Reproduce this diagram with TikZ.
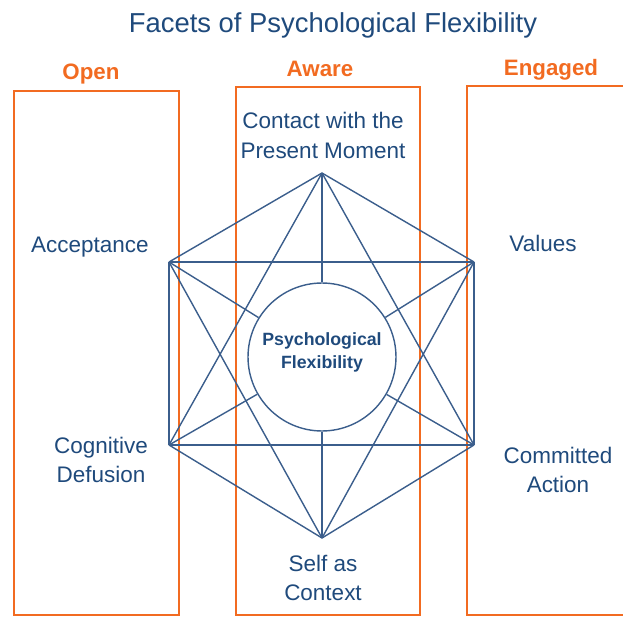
\documentclass[tikz,border=0pt]{standalone}
\usepackage{fontspec}
\setmainfont{Liberation Sans}
\usepackage{xcolor}
\usepackage{tikz}
\usetikzlibrary{shapes.geometric, positioning}

\definecolor{actBlue}{HTML}{1F4A7C}
\definecolor{actLine}{HTML}{3B5E8C}
\definecolor{actOrange}{HTML}{F26B21}

\begin{document}
\begin{tikzpicture}[
    x=0.02cm, y=-0.02cm,
    % ── boxes and lines ──
    facetBox/.style  = {draw=actOrange, line width=1.1pt},
    hexLine/.style   = {draw=actLine, line width=0.8pt},
    % ── text styles ──
    titleLabel/.style = {font=\fontsize{15.6}{18}\selectfont, text=actBlue},
    headLabel/.style  = {font=\fontsize{12.7}{15}\selectfont\bfseries,
                         text=actOrange},
    facetLabel/.style = {font=\fontsize{12.8}{17}\selectfont, text=actBlue,
                         align=center, inner sep=0pt},
    coreLabel/.style  = {font=\fontsize{10.1}{13}\selectfont\bfseries,
                         text=actBlue, align=center, inner sep=0pt},
]

\useasboundingbox (0,0) rectangle (623,619);

% =====================================================================
% Title and the three column heads
% =====================================================================
\node[titleLabel, anchor=base] (title) at (333,32)
  {Facets of Psychological Flexibility};

\node[headLabel, anchor=base] (open)    at (91,79)    {Open};
\node[headLabel, anchor=base] (aware)   at (320,76.5) {Aware};
\node[headLabel, anchor=base] (engaged) at (551,75.5) {Engaged};

% =====================================================================
% Column boxes  (the right one runs off the page)
% =====================================================================
\draw[facetBox] (14,91)  rectangle (179,615);
\draw[facetBox] (236,87) rectangle (420,615);
\draw[facetBox] (467,86) rectangle (640,615);

% =====================================================================
% Hexaflex: six corners, edges between them, spokes to the core
% =====================================================================
\coordinate (now)  at (322,173);
\coordinate (acc)  at (169,262);
\coordinate (val)  at (474,262);
\coordinate (def)  at (169,445);
\coordinate (com)  at (474,445);
\coordinate (self) at (322,538);

\node[circle, draw=actLine, line width=0.8pt, minimum size=2.96cm,
      inner sep=0pt] (core) at (322,357) {};

\foreach \a/\b in {now/acc, now/val, now/def, now/com,
                   acc/val, acc/def, acc/self,
                   val/com, val/self,
                   def/com, def/self, com/self}{
  \draw[hexLine] (\a) -- (\b);
}
\foreach \v in {now, acc, val, def, com, self}{
  \draw[hexLine] (\v) -- (core);
}

\node[coreLabel] (coreText) at (322,352) {Psychological\\Flexibility};

% =====================================================================
% Facet labels
% =====================================================================
\node[facetLabel] (nowText)  at (323,135.5) {Contact with the\\Present Moment};
\node[facetLabel, anchor=base] (accText) at (90,252) {Acceptance};
\node[facetLabel, anchor=base] (valText) at (543,251) {Values};
\node[facetLabel] (defText)  at (101,460)   {Cognitive\\Defusion};
\node[facetLabel] (comText)  at (558,470)   {Committed\\Action};
\node[facetLabel] (selfText) at (323,578)   {Self as\\Context};

\end{tikzpicture}
\end{document}
